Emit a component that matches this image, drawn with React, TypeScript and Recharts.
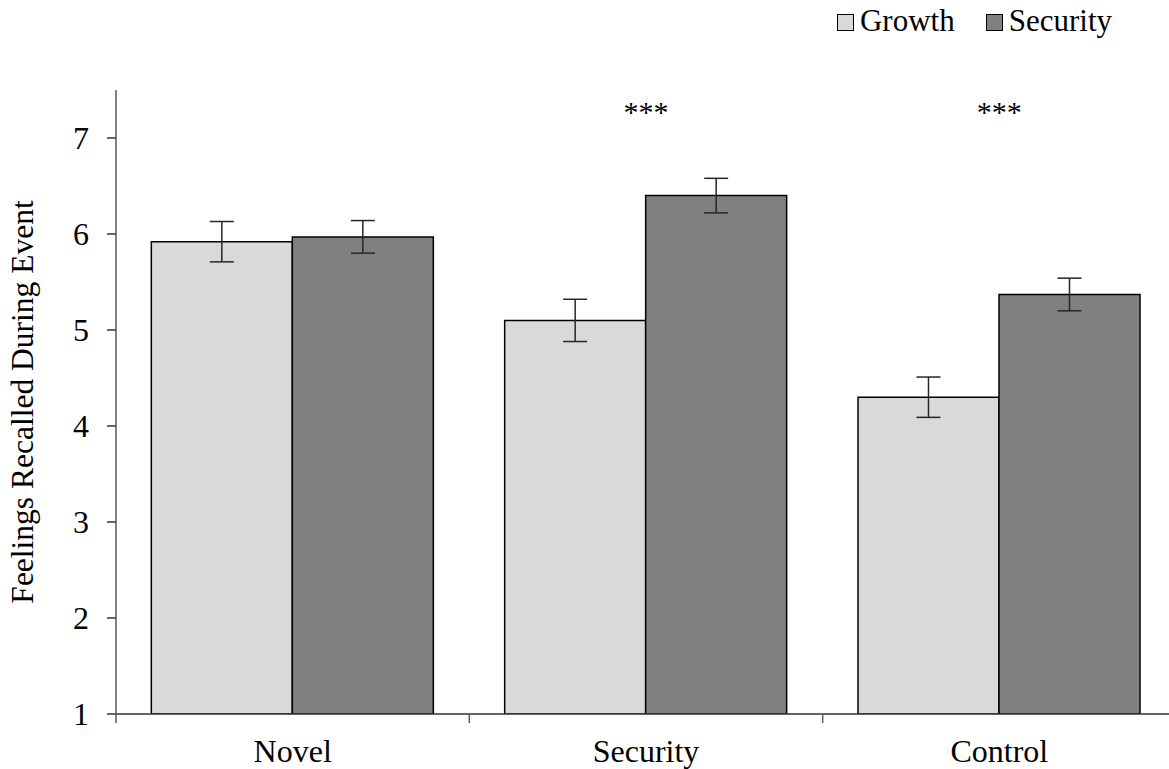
import { BarChart, Bar, XAxis, YAxis, ErrorBar, Legend, ReferenceDot } from 'recharts';

const categories = ['Novel', 'Security', 'Control'];
const growthMeans = [5.92, 5.1, 4.3];
const growthErrors = [0.21, 0.22, 0.21];
const securityMeans = [5.97, 6.4, 5.37];
const securityErrors = [0.17, 0.18, 0.17];
const significance = ['', '***', '***'];
const yTicks = [1, 2, 3, 4, 5, 6, 7];
const starLevel = 7.28;

const FONT = '"Liberation Serif", "Times New Roman", serif';
const GROWTH_FILL = '#d9d9d9';
const SECURITY_FILL = '#808080';
const AXIS = '#595959';

const data = categories.map((name, i) => ({
  name,
  growth: growthMeans[i],
  growthErr: growthErrors[i],
  security: securityMeans[i],
  securityErr: securityErrors[i],
}));

const CHART_W = 1180;
const MARGIN = { top: 90, right: 4, left: 0, bottom: 0 };
const Y_WIDTH = 116;

function CategoryTick(props: any) {
  const { x, y, payload } = props;
  const plotW = CHART_W - MARGIN.left - MARGIN.right - Y_WIDTH;
  const half = payload?.offset || plotW / categories.length / 2;
  return (
    <g>
      <line x1={x - half} x2={x - half} y1={y} y2={y + 9} stroke={AXIS} strokeWidth={1.5} />
      <text x={x} y={y + 25} dy="0.71em" textAnchor="middle" fill="#000" fontSize={32} fontFamily={FONT}>
        {payload.value}
      </text>
    </g>
  );
}

function LegendContent(props: any) {
  const items = props.payload || [];
  return (
    <div
      style={{
        display: 'flex',
        justifyContent: 'flex-end',
        paddingRight: 57,
        fontFamily: FONT,
        fontSize: 31,
        lineHeight: '41px',
        color: '#000',
      }}
    >
      {items.map((item: any, i: number) => (
        <span key={i} style={{ display: 'flex', alignItems: 'center', marginLeft: i ? 31 : 0 }}>
          <span
            style={{
              display: 'inline-block',
              width: 15,
              height: 15,
              border: '1.5px solid #000',
              background: item.color,
              marginRight: 6,
              position: 'relative',
              top: 2,
            }}
          />
          {item.value}
        </span>
      ))}
    </div>
  );
}

export default function App() {
  return (
    <div style={{ position: 'absolute', left: 0, top: 0, width: 1169, height: 769, overflow: 'hidden', background: '#fff' }}>
      <BarChart width={CHART_W} height={769} data={data} margin={MARGIN} barCategoryGap="10%" barGap={0}>
        <XAxis
          dataKey="name"
          height={55}
          axisLine={{ stroke: '#333', strokeWidth: 1.5 }}
          tickLine={false}
          tickSize={0}
          tickMargin={0}
          tick={<CategoryTick />}
          interval={0}
        />
        <YAxis
          width={Y_WIDTH}
          domain={[1, 7.5]}
          ticks={yTicks}
          allowDataOverflow
          axisLine={{ stroke: AXIS, strokeWidth: 1.5 }}
          tickLine={{ stroke: '#333', strokeWidth: 1.5 }}
          tickSize={9}
          tickMargin={18}
          tick={{ fill: '#000', fontSize: 32, fontFamily: FONT }}
          label={{
            content: ({ viewBox }: any) => {
              const cy = viewBox.y + viewBox.height / 2;
              return (
                <text
                  x={33}
                  y={cy}
                  transform={`rotate(-90, 33, ${cy})`}
                  textAnchor="middle"
                  fill="#000"
                  fontSize={31.5}
                  fontFamily={FONT}
                >
                  Feelings Recalled During Event
                </text>
              );
            },
          }}
        />
        <Legend
          layout="horizontal"
          verticalAlign="middle"
          align="center"
          content={<LegendContent />}
          wrapperStyle={{ top: 0, left: 0, width: 1169 }}
        />
        <Bar dataKey="growth" name="Growth" fill={GROWTH_FILL} stroke="#000" strokeWidth={1.5} isAnimationActive={false}>
          <ErrorBar dataKey="growthErr" width={12} stroke="#262626" strokeWidth={1.5} />
        </Bar>
        <Bar dataKey="security" name="Security" fill={SECURITY_FILL} stroke="#000" strokeWidth={1.5} isAnimationActive={false}>
          <ErrorBar dataKey="securityErr" width={12} stroke="#262626" strokeWidth={1.5} />
        </Bar>
        {categories.map((c, i) =>
          significance[i] ? (
            <ReferenceDot
              key={c}
              x={c}
              y={starLevel}
              r={0}
              fill="none"
              stroke="none"
              label={{ value: significance[i], position: 'center', fontSize: 30, fontFamily: FONT, fill: '#000' }}
            />
          ) : null
        )}
      </BarChart>
    </div>
  );
}
